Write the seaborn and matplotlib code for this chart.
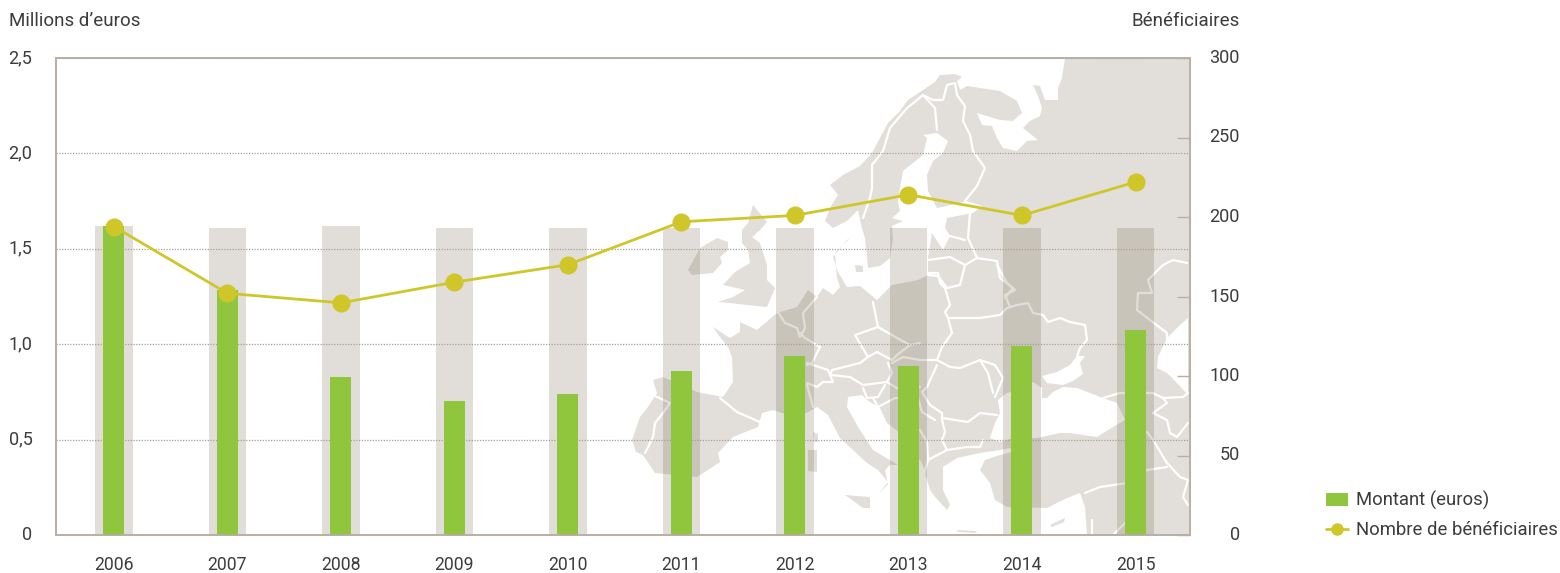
import matplotlib
matplotlib.use("Agg")
import matplotlib.pyplot as plt
import pandas as pd
import seaborn as sns
from matplotlib.lines import Line2D
from matplotlib.patches import Patch, Polygon, Rectangle
from matplotlib.transforms import Affine2D

years = ["2006", "2007", "2008", "2009", "2010", "2011", "2012", "2013", "2014", "2015"]
montant = [1.62, 1.285, 0.83, 0.70, 0.74, 0.86, 0.94, 0.885, 0.99, 1.075]
fond = [1.62, 1.61, 1.62, 1.61, 1.61, 1.61, 1.61, 1.61, 1.61, 1.61]
beneficiaires = [194, 152, 146, 159, 170, 197, 201, 214, 201, 222]
left_ticks = [0, 0.5, 1.0, 1.5, 2.0, 2.5]
left_labels = ["0", "0,5", "1,0", "1,5", "2,0", "2,5"]
right_ticks = [0, 50, 100, 150, 200, 250, 300]

# decorative background map, traced in picture pixels
continent = [
    (1065, 58), (1062, 78), (1058, 88), (1058, 100), (1045, 100), (1040, 86), (1033, 85), (1038, 96),
    (1042, 108), (1040, 116), (1030, 121), (1023, 128), (1038, 140), (1027, 141), (1017, 151), (1003, 148),
    (997, 138), (992, 126), (982, 125), (977, 113), (1000, 120), (1013, 121), (1022, 113), (1017, 101),
    (1000, 91), (980, 88), (967, 86), (960, 90), (957, 81), (962, 77), (955, 74), (940, 75), (935, 82),
    (923, 90), (908, 100), (900, 111), (888, 123), (880, 138), (872, 153), (860, 166), (843, 175),
    (830, 185), (838, 195), (830, 208), (825, 221), (833, 228), (847, 221), (858, 210), (862, 228),
    (865, 238), (867, 258), (868, 268), (880, 266), (890, 258), (893, 240), (892, 226), (903, 221),
    (892, 218), (900, 211), (898, 201), (900, 188), (903, 171), (923, 155), (927, 138), (923, 135),
    (937, 133), (948, 141), (943, 153), (933, 161), (927, 175), (928, 191), (937, 208), (947, 206),
    (967, 201), (982, 206), (973, 213), (947, 218), (945, 228), (950, 236), (943, 250), (932, 233),
    (928, 258), (928, 275), (918, 280), (892, 285), (877, 300), (860, 286), (847, 287), (838, 272),
    (833, 257), (847, 240), (850, 238), (835, 253), (837, 278), (840, 287), (833, 295), (823, 288),
    (817, 297), (808, 290), (797, 307), (777, 313), (757, 330), (740, 322), (740, 332), (730, 338),
    (713, 327), (720, 337), (728, 347), (732, 357), (733, 382), (723, 397), (697, 392), (663, 377),
    (653, 380), (657, 393), (648, 407), (640, 417), (632, 440), (636, 452), (643, 455), (655, 473),
    (697, 477), (708, 470), (720, 462), (718, 453), (733, 437), (758, 427), (762, 413), (773, 410),
    (797, 418), (817, 407), (828, 415), (840, 438), (867, 463), (878, 470), (888, 482), (878, 495),
    (888, 484), (885, 470), (890, 465), (898, 465), (873, 450), (858, 427), (847, 407), (848, 397),
    (862, 395), (867, 400), (880, 408), (887, 423), (900, 433), (922, 463), (930, 490), (935, 497),
    (947, 510), (950, 505), (943, 490), (943, 467), (957, 458), (980, 453), (1000, 450), (1010, 448),
    (1012, 452), (1000, 455), (985, 460), (980, 470), (990, 483), (995, 500), (1007, 507), (1047, 508),
    (1067, 498), (1080, 493), (1085, 507), (1087, 535), (1190, 535), (1190, 58),
]
uk = [(753, 205), (767, 222), (760, 230), (752, 237), (760, 243), (767, 265), (767, 280), (775, 288),
      (767, 307), (747, 305), (730, 303), (718, 302), (733, 297), (745, 290), (723, 285), (735, 272),
      (750, 263), (748, 250), (742, 243), (742, 230), (748, 223)]
irlande = [(688, 270), (700, 248), (717, 238), (728, 242), (728, 250), (720, 257), (722, 263), (713, 273), (692, 275)]
iles = [
    [(813, 432), (818, 434), (818, 442), (814, 442)],
    [(808, 450), (817, 450), (817, 472), (808, 471)],
    [(845, 495), (870, 497), (870, 508), (863, 508)],
    [(855, 265), (863, 266), (863, 272), (856, 272)],
    [(1050, 525), (1065, 518), (1064, 522), (1052, 527)],
    [(957, 530), (977, 531), (975, 533), (958, 532)],
]
mers = [
    [(998, 400), (1000, 413), (995, 423), (990, 438), (1000, 442), (1013, 438), (1037, 438), (1060, 433),
     (1070, 433), (1097, 437), (1113, 427), (1125, 420), (1117, 403), (1103, 398), (1077, 388), (1063, 387),
     (1053, 392), (1047, 398), (1042, 398), (1042, 388), (1033, 382), (1017, 390), (1007, 393)],
    [(1042, 376), (1057, 372), (1070, 365), (1077, 356), (1085, 356), (1080, 363), (1083, 374), (1073, 381),
     (1063, 385), (1047, 383)],
    [(1188, 318), (1178, 327), (1167, 338), (1158, 357), (1157, 368), (1167, 373), (1177, 383), (1188, 395)],
]
frontieres = [
    [(923, 95), (935, 108), (937, 130)],
    [(923, 95), (933, 100), (943, 100), (947, 85), (955, 83), (957, 95), (965, 106), (963, 121), (970, 135),
     (973, 151), (985, 168), (977, 186), (965, 201)],
    [(923, 95), (907, 108), (890, 128), (883, 151), (872, 165), (872, 188), (870, 198), (863, 218)],
    [(970, 213), (968, 238), (977, 258)],
    [(950, 236), (965, 240)],
    [(928, 260), (950, 257), (965, 265), (977, 258), (997, 261), (1000, 278), (1013, 288), (1005, 298)],
    [(965, 265), (960, 285), (947, 288), (938, 276), (928, 275)],
    [(928, 273), (938, 273), (940, 283), (945, 288), (950, 305), (945, 312), (948, 318), (952, 333), (942, 347), (937, 360)],
    [(948, 318), (980, 318), (1000, 315), (1007, 308), (1017, 305), (1028, 303), (1033, 313), (1043, 315),
     (1048, 322), (1060, 318), (1070, 322), (1085, 325), (1087, 340), (1080, 348), (1077, 357)],
    [(997, 265), (1007, 283), (1015, 290), (1005, 295), (1010, 307)],
    [(937, 360), (950, 367), (960, 368), (980, 360), (988, 373), (993, 393)],
    [(980, 360), (995, 365), (1003, 378), (995, 397)],
    [(937, 365), (927, 387), (922, 392), (930, 405), (942, 413), (942, 420)],
    [(942, 418), (968, 422), (980, 413), (997, 415)],
    [(942, 420), (945, 432), (942, 440), (947, 450), (967, 447), (980, 447), (983, 440)],
    [(947, 450), (928, 460), (923, 477)],
    [(873, 302), (878, 327), (855, 335), (868, 357), (877, 352), (892, 360), (897, 355), (910, 345)],
    [(878, 327), (897, 338), (910, 345), (920, 343)],
    [(868, 357), (860, 363), (832, 370), (830, 375), (850, 377), (863, 385), (887, 382), (892, 373), (888, 363)],
    [(892, 363), (903, 357), (920, 360), (937, 360)],
    [(887, 382), (900, 390), (920, 387)],
    [(820, 347), (812, 363), (807, 365)],
    [(807, 363), (828, 370), (833, 382), (823, 382), (817, 387), (807, 383), (807, 385), (813, 407)],
    [(778, 312), (785, 323), (797, 328), (800, 337), (805, 328), (803, 313), (817, 297)],
    [(800, 333), (805, 338), (820, 347)],
    [(720, 398), (737, 412), (760, 422)],
    [(653, 395), (670, 403), (663, 413), (655, 423), (653, 437), (645, 453)],
    [(863, 388), (867, 398), (878, 397), (885, 385)],
    [(873, 398), (878, 407), (895, 398), (918, 398), (922, 412), (935, 420)],
    [(920, 430), (927, 442), (928, 460)],
    [(1103, 398), (1120, 393), (1153, 393), (1163, 398), (1183, 397), (1188, 393)],
    [(1153, 413), (1167, 403), (1163, 398)],
    [(1153, 413), (1167, 420), (1170, 433), (1177, 437), (1188, 423)],
    [(1147, 432), (1153, 440), (1167, 463), (1180, 477), (1188, 480), (1183, 497), (1188, 505)],
    [(1085, 493), (1100, 487), (1127, 483), (1147, 470), (1167, 467)],
    [(1092, 520), (1092, 535)],
    [(1113, 535), (1125, 523)],
    [(1187, 263), (1173, 260), (1163, 265), (1148, 280), (1152, 293), (1138, 293), (1137, 310), (1150, 320),
     (1167, 333), (1167, 340)],
]

sns.set_theme(style="white")
plt.rcParams["font.family"] = ["Roboto", "DejaVu Sans"]

TEXT = "#3c3c3b"
SPINE = "#b8afa5"
GREEN = "#90c63e"
LINE = "#cfc62a"
LAND = "#e2dfda"

df = pd.DataFrame({"annee": years, "montant": montant, "fond": fond, "beneficiaires": beneficiaires})

fig = plt.figure(figsize=(15.6, 5.73), dpi=100)

# map goes on its own full-figure axes in pixel coordinates, behind the chart
ax_map = fig.add_axes([0, 0, 1, 1], zorder=0)
ax_map.set_xlim(0, 1560)
ax_map.set_ylim(573, 0)
ax_map.axis("off")
clip = Rectangle((56, 58), 1134, 477, transform=ax_map.transData)
for pts, col in [(continent, LAND), (uk, LAND), (irlande, LAND)] + [(p, LAND) for p in iles] + [(p, "white") for p in mers]:
    ax_map.add_patch(Polygon(pts, closed=True, fc=col, ec="none", clip_path=clip))
for pts in frontieres:
    xs, ys = zip(*pts)
    ax_map.plot(xs, ys, color="white", lw=1.6, clip_path=clip)

ax = fig.add_axes([56 / 1560, 1 - 535 / 573, 1134 / 1560, 477 / 573], zorder=1)
ax.patch.set_visible(False)
sns.barplot(data=df, x="annee", y="fond", ax=ax, color=(74 / 255, 55 / 255, 24 / 255), alpha=0.16,
            width=0.33, saturation=1, linewidth=0, zorder=1)
sns.barplot(data=df, x="annee", y="montant", ax=ax, color=GREEN, width=0.185, saturation=1, linewidth=0, zorder=3)
ax.set_xlim(-0.51, 9.48)
ax.set_ylim(0, 2.5)
ax.set_yticks(left_ticks)
ax.set_yticklabels(left_labels)
ax.set_xlabel("")
ax.set_ylabel("")
ax.grid(axis="y", color="#a89f94", lw=0.9, ls=(0, (1, 1.2)), zorder=2)
ax.set_axisbelow(False)
for line in ax.get_ygridlines():
    line.set_zorder(2)
ax.tick_params(axis="y", length=0, pad=17, labelsize=13, labelcolor=TEXT)
ax.tick_params(axis="x", length=0, pad=15, labelsize=12.7, labelcolor=TEXT)
for side in ax.spines.values():
    side.set_color(SPINE)
    side.set_linewidth(1.2)

ax2 = ax.twinx()
ax2.set_zorder(2)
sns.pointplot(data=df, x="annee", y="beneficiaires", ax=ax2, color=LINE, markers="o", markersize=11.5,
              linewidth=2, errorbar=None)
ax2.set_xlim(-0.51, 9.48)
ax2.set_ylim(0, 300)
ax2.set_yticks(right_ticks)
ax2.set_ylabel("")
ax2.tick_params(axis="y", direction="in", length=9.5, width=1, color=SPINE, pad=36, labelsize=13, labelcolor=TEXT)
for lab in ax2.get_yticklabels():
    lab.set_ha("right")
for side in ax2.spines.values():
    side.set_color(SPINE)
    side.set_linewidth(1.2)

# y tick labels sit 2px higher in the reference
for lab in ax.get_yticklabels() + ax2.get_yticklabels():
    lab.set_transform(lab.get_transform() + Affine2D().translate(0, 2))

fig.text(9 / 1560, 1 - 21 / 573, "Millions d’euros", fontsize=13.5, color=TEXT, ha="left", va="center")
fig.text(1240 / 1560, 1 - 21 / 573, "Bénéficiaires", fontsize=13.5, color=TEXT, ha="right", va="center")

handles = [
    Patch(color=GREEN, lw=0),
    Line2D([], [], color=LINE, lw=2, marker="o", markersize=8),
]
fig.legend(handles, ["Montant (euros)", "Nombre de bénéficiaires"], loc="lower left",
           bbox_to_anchor=(1326 / 1560, 1 - 539 / 573), frameon=False, fontsize=13.3, labelcolor=TEXT,
           borderpad=0, borderaxespad=0, handlelength=1.2, handleheight=0.7, handletextpad=0.43, labelspacing=0.6)

fig.savefig("out.png", dpi=100)
